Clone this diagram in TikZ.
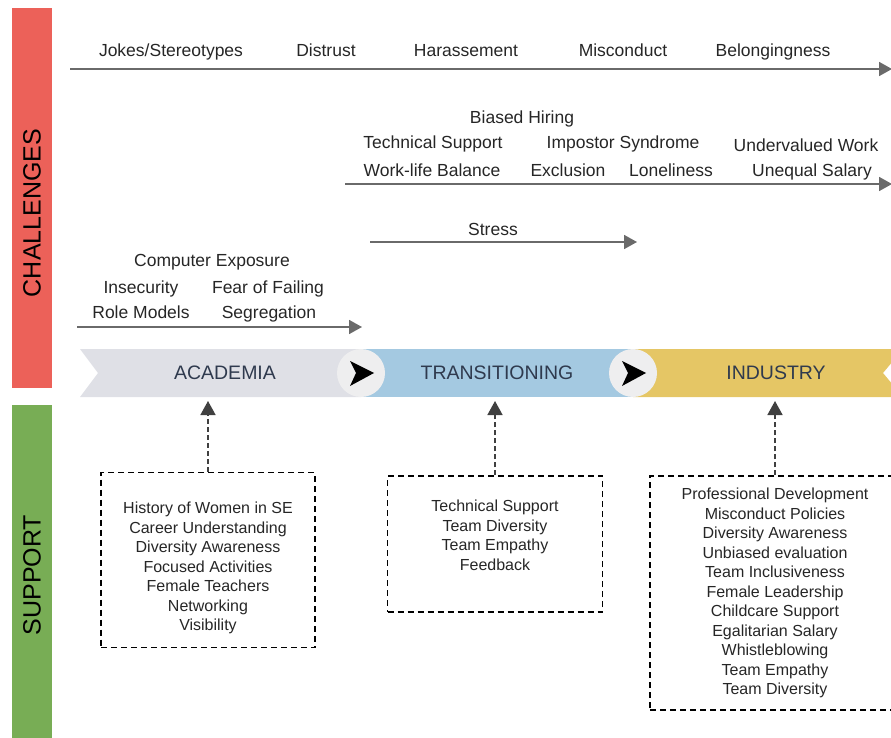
\documentclass[tikz,border=0pt]{standalone}
\usepackage{fontspec}
\setmainfont{Liberation Sans}
\usetikzlibrary{arrows.meta,positioning}

\definecolor{challred}{HTML}{EC6159}
\definecolor{suppgreen}{HTML}{78AD55}
\definecolor{acadgray}{HTML}{DFE0E6}
\definecolor{transblue}{HTML}{A4C9E1}
\definecolor{indgold}{HTML}{E5C665}
\definecolor{circgray}{HTML}{EEEEEF}
\definecolor{linegray}{HTML}{6A6A6A}
\definecolor{stagetext}{HTML}{2F3A4E}

\tikzset{
    lbl/.style={anchor=base, inner sep=0pt, font=\fontsize{17.5}{20}\selectfont, text=black!85},
    timeline/.style={draw=linegray, line width=1.8pt, -{Triangle[length=13pt,width=14pt]}},
    stage/.style={font=\fontsize{19.5}{22}\selectfont, text=stagetext},
    sidebar/.style={rotate=90, font=\fontsize{25}{28}\selectfont},
    suppbox/.style={draw, line width=1.2pt, dash pattern=on 6pt off 4pt, align=center,
        font=\fontsize{16}{19.5}\selectfont, text=black!85},
    supparrow/.style={draw=black!75, line width=1.6pt, dash pattern=on 5pt off 3pt,
        -{Triangle[length=14pt,width=15pt]}}
}

\begin{document}
\begin{tikzpicture}[x=1pt, y=-1pt]
    \useasboundingbox (0,0) rectangle (891,738);

    % side bars
    \fill[challred] (12,8) rectangle (52,388);
    \node[sidebar] (chall) at (32,213) {CHALLENGES};
    \fill[suppgreen] (12,405) rectangle (52,740);
    \node[sidebar] (supp) at (32,575) {SUPPORT};

    % challenge timelines
    \coordinate (t1s) at (70,69);   \coordinate (t1e) at (892,69);
    \coordinate (t2s) at (345,184); \coordinate (t2e) at (892,184);
    \coordinate (t3s) at (370,242); \coordinate (t3e) at (637,242);
    \coordinate (t4s) at (77,327);  \coordinate (t4e) at (362,327);
    \foreach \t in {t1,t2,t3,t4} \draw[timeline] (\t s) -- (\t e);

    % challenge labels
    \foreach \name/\x/\y/\txt in {
        jokes/171/57/Jokes\slash Stereotypes, distrust/326/57/Distrust,
        harass/466/57/Harassement, miscond/623/57/Misconduct,
        belong/773/57/Belongingness,
        hiring/522/124/Biased Hiring, techsup/433/149/Technical Support,
        impostor/623/149/Impostor Syndrome, underval/806/152/Undervalued Work,
        worklife/432/177/Work-life Balance, exclusion/568/177/Exclusion,
        lonely/671/177/Loneliness, salary/812/177/Unequal Salary,
        stress/493/235/Stress,
        exposure/212/266/Computer Exposure, insecure/141/293/Insecurity,
        failing/268/293/Fear of Failing, rolemod/141/318/Role Models,
        segreg/269/318/Segregation}
        \node[lbl] (\name) at (\x,\y) {\txt};

    % stages band
    \fill[acadgray] (80,349) -- (361,349) -- (361,397) -- (80,397) -- (98,373) -- cycle;
    \fill[transblue] (361,349) rectangle (633,397);
    \fill[indgold] (633,349) -- (893,349) -- (893,361) -- (883,373) -- (893,385)
        -- (893,397) -- (633,397) -- cycle;
    \foreach \cx in {361,633} {
        \fill[circgray] (\cx,373) circle (24pt);
        \fill[black] (\cx-11,361) -- (\cx+13,373) -- (\cx-11,386) -- (\cx-5,373) -- cycle;
    }
    \node[stage] (acad) at (225,373) {ACADEMIA};
    \node[stage] (trans) at (497,373) {TRANSITIONING};
    \node[stage] (ind) at (776,373) {INDUSTRY};
    \coordinate (bandlow) at (0,401);

    % support boxes
    \node[suppbox, minimum width=214pt, minimum height=175pt] (acbox) at (208,560)
        {\rule{0pt}{28pt}History of Women in SE\\Career Understanding\\Diversity Awareness\\
         Focused Activities\\Female Teachers\\Networking\\Visibility};
    \node[suppbox, minimum width=215pt, minimum height=136pt] (trbox) at (495,544)
        {Technical Support\\Team Diversity\\Team Empathy\\Feedback\rule[-18pt]{0pt}{0pt}};
    \node[suppbox, minimum width=250pt, minimum height=234pt] (indbox) at (775,593)
        {Professional Development\\Misconduct Policies\\Diversity Awareness\\Unbiased evaluation\\
         Team Inclusiveness\\Female Leadership\\Childcare Support\\Egalitarian Salary\\
         Whistleblowing\\Team Empathy\\Team Diversity};

    \foreach \b in {acbox,trbox,indbox}
        \draw[supparrow] (\b.north) -- (\b.north |- bandlow);
\end{tikzpicture}
\end{document}
